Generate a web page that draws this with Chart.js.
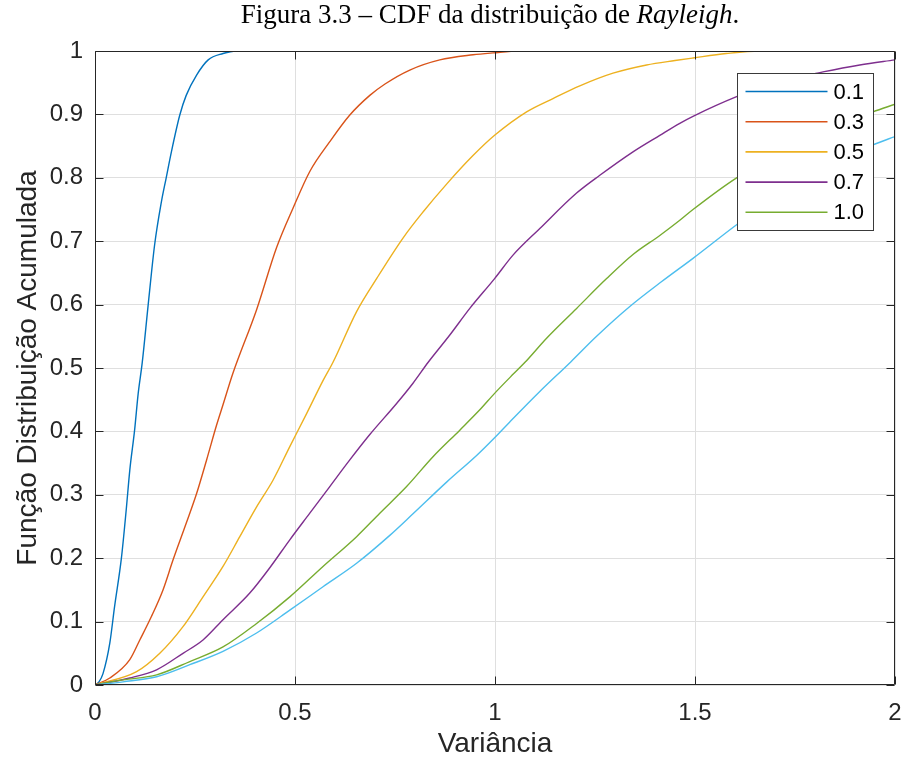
<!DOCTYPE html>
<html>
<head>
<meta charset="utf-8">
<script src="https://cdn.jsdelivr.net/npm/chart.js@4.4.1/dist/chart.umd.min.js"></script>
<style>
  html, body { margin: 0; padding: 0; background: #fff; }
  #wrap { width: 903px; height: 758px; position: relative; }
</style>
</head>
<body>
<div id="wrap"><canvas id="chart-cdf"></canvas></div>
<script>
// curve labels (the last curve has no legend entry in the original)
const seriesLabels = ["0.1", "0.3", "0.5", "0.7", "1.0", ""];
const seriesColors = ["#0072BD", "#D95319", "#EDB120", "#7E2F8E", "#77AC30", "#4DBEEE"];

// values
const x01 = [0, 0.01, 0.02, 0.037, 0.049, 0.066, 0.078, 0.087, 0.099, 0.108, 0.118, 0.133, 0.149, 0.166, 0.178, 0.191, 0.212, 0.228, 0.254, 0.283, 0.32, 0.353, 2];
const y01 = [0, 0.005, 0.018, 0.066, 0.124, 0.2, 0.276, 0.339, 0.402, 0.46, 0.508, 0.6, 0.694, 0.762, 0.8, 0.841, 0.899, 0.93, 0.962, 0.986, 0.996, 1, 1];

const x03 = [0, 0.037, 0.087, 0.112, 0.141, 0.17, 0.195, 0.228, 0.254, 0.279, 0.304, 0.32, 0.345, 0.404, 0.454, 0.495, 0.537, 0.587, 0.637, 0.687, 0.725, 0.787, 0.862, 0.945, 0.995, 1.06, 2];
const y03 = [0, 0.011, 0.04, 0.071, 0.108, 0.15, 0.197, 0.255, 0.302, 0.355, 0.41, 0.442, 0.492, 0.592, 0.69, 0.752, 0.81, 0.857, 0.899, 0.93, 0.948, 0.97, 0.986, 0.994, 0.997, 1, 1];

const x05 = [0, 0.104, 0.162, 0.22, 0.27, 0.32, 0.362, 0.404, 0.445, 0.487, 0.529, 0.57, 0.595, 0.654, 0.704, 0.77, 0.82, 0.879, 0.945, 0.999, 1.079, 1.145, 1.212, 1.295, 1.379, 1.45, 1.495, 1.578, 1.662, 2];
const y05 = [0, 0.021, 0.05, 0.092, 0.139, 0.187, 0.234, 0.281, 0.323, 0.376, 0.428, 0.48, 0.509, 0.589, 0.641, 0.705, 0.746, 0.79, 0.835, 0.867, 0.904, 0.925, 0.945, 0.965, 0.978, 0.985, 0.989, 0.996, 1, 1];

const x07 = [0, 0.087, 0.154, 0.22, 0.27, 0.32, 0.387, 0.437, 0.487, 0.537, 0.587, 0.637, 0.687, 0.754, 0.795, 0.833, 0.887, 0.937, 0.999, 1.045, 1.112, 1.204, 1.262, 1.345, 1.412, 1.462, 1.495, 1.604, 1.7, 1.82, 1.912, 2];
const y07 = [0, 0.011, 0.024, 0.05, 0.071, 0.103, 0.145, 0.185, 0.229, 0.271, 0.313, 0.355, 0.395, 0.444, 0.476, 0.509, 0.552, 0.594, 0.641, 0.678, 0.72, 0.776, 0.804, 0.841, 0.867, 0.886, 0.897, 0.928, 0.95, 0.967, 0.978, 0.986];

const x10 = [0, 0.07, 0.154, 0.237, 0.32, 0.404, 0.487, 0.57, 0.654, 0.712, 0.779, 0.845, 0.912, 0.962, 0.999, 1.045, 1.075, 1.129, 1.204, 1.279, 1.345, 1.412, 1.462, 1.495, 1.604, 1.75, 1.945, 2];
const y10 = [0, 0.008, 0.016, 0.037, 0.06, 0.097, 0.139, 0.187, 0.234, 0.271, 0.313, 0.36, 0.402, 0.434, 0.46, 0.49, 0.509, 0.547, 0.594, 0.641, 0.679, 0.709, 0.733, 0.75, 0.8, 0.852, 0.904, 0.916];

const xExtra = [0, 0.07, 0.154, 0.237, 0.32, 0.404, 0.487, 0.57, 0.654, 0.737, 0.795, 0.879, 0.954, 0.999, 1.037, 1.112, 1.19, 1.254, 1.337, 1.416, 1.495, 1.604, 1.75, 1.945, 2];
const yExtra = [0, 0.005, 0.013, 0.032, 0.053, 0.082, 0.118, 0.155, 0.192, 0.236, 0.27, 0.32, 0.362, 0.39, 0.415, 0.463, 0.51, 0.55, 0.597, 0.636, 0.673, 0.726, 0.792, 0.852, 0.865];

const seriesX = [x01, x03, x05, x07, x10, xExtra];
const seriesY = [y01, y03, y05, y07, y10, yExtra];

const xTicks = [0, 0.5, 1, 1.5, 2];
const yTicks = [0, 0.1, 0.2, 0.3, 0.4, 0.5, 0.6, 0.7, 0.8, 0.9, 1];

const axisColor = "#262626";
const sansFont = "'Liberation Sans', Arial, sans-serif";
const serifFont = "'Liberation Serif', 'Times New Roman', serif";

// box, inward ticks, legend and the mixed-style title
const matlabLook = {
  id: "matlabLook",
  afterDatasetsDraw(chart) {
    const ctx = chart.ctx;
    const a = chart.chartArea;
    const sx = chart.scales.x;
    const sy = chart.scales.y;
    const L = Math.round(a.left) + 0.5, R = Math.round(a.right) - 0.5;
    const T = Math.round(a.top) + 0.5, B = Math.round(a.bottom) - 0.5;
    ctx.save();
    ctx.strokeStyle = axisColor;
    ctx.lineWidth = 1;
    ctx.beginPath();
    ctx.rect(L, T, R - L, B - T);
    xTicks.forEach((v) => {
      const px = Math.round(sx.getPixelForValue(v)) + 0.5;
      ctx.moveTo(px, B); ctx.lineTo(px, B - 8);
      ctx.moveTo(px, T); ctx.lineTo(px, T + 8);
    });
    yTicks.forEach((v) => {
      const py = Math.round(sy.getPixelForValue(v)) + 0.5;
      ctx.moveTo(L, py); ctx.lineTo(L + 8, py);
      ctx.moveTo(R, py); ctx.lineTo(R - 8, py);
    });
    ctx.stroke();

    // legend box (top right, inside axes)
    const entries = chart.data.datasets.filter((d) => d.label);
    const rowH = 30.2;
    const boxW = 136, boxH = 157;
    const bx = Math.round(a.right) - 22 - boxW + 0.5;
    const by = Math.round(a.top) + 22 + 0.5;
    ctx.fillStyle = "#fff";
    ctx.fillRect(bx, by, boxW, boxH);
    ctx.strokeStyle = "#3a3a3a";
    ctx.strokeRect(bx, by, boxW, boxH);
    ctx.font = "22px " + sansFont;
    ctx.textBaseline = "middle";
    ctx.textAlign = "left";
    entries.forEach((d, i) => {
      const cy = by + 18 + i * rowH;
      ctx.strokeStyle = d.borderColor;
      ctx.lineWidth = 1.6;
      ctx.beginPath();
      ctx.moveTo(bx + 8, cy);
      ctx.lineTo(bx + 90, cy);
      ctx.stroke();
      ctx.fillStyle = "#000";
      ctx.fillText(d.label, bx + 96, cy + 1);
    });

    // title: "Figura 3.3 – CDF da distribuição de Rayleigh."
    const parts = [
      { t: "Figura 3.3 – CDF da distribuição de ", f: "27px " + serifFont },
      { t: "Rayleigh", f: "italic 27px " + serifFont },
      { t: ".", f: "27px " + serifFont }
    ];
    let total = 0;
    parts.forEach((p) => { ctx.font = p.f; p.w = ctx.measureText(p.t).width; total += p.w; });
    let tx = (a.left + a.right) / 2 - 5 - total / 2;
    ctx.fillStyle = "#000";
    ctx.textBaseline = "alphabetic";
    parts.forEach((p) => { ctx.font = p.f; ctx.fillText(p.t, tx, 23); tx += p.w; });
    ctx.restore();
  }
};

const datasets = seriesLabels.map((lab, i) => ({
  label: lab,
  data: seriesX[i].map((x, j) => ({ x: x, y: seriesY[i][j] })),
  borderColor: seriesColors[i],
  backgroundColor: seriesColors[i],
  borderWidth: 1.4,
  pointRadius: 0,
  cubicInterpolationMode: "monotone",
  fill: false,
  order: seriesLabels.length - i
}));

new Chart(document.getElementById("chart-cdf"), {
  type: "line",
  data: { datasets: datasets },
  plugins: [matlabLook],
  options: {
    responsive: true,
    maintainAspectRatio: false,
    animation: false,
    layout: { padding: { top: 51, right: 8, left: 0, bottom: 0 } },
    plugins: {
      legend: { display: false },
      tooltip: { enabled: false }
    },
    scales: {
      x: {
        type: "linear",
        min: 0,
        max: 2,
        afterFit(scale) {
          scale.height = 73;
          scale.paddingLeft = 0;
          scale.paddingRight = 0;
        },
        afterBuildTicks(scale) { scale.ticks = xTicks.map((v) => ({ value: v })); },
        grid: { color: "#dfdfdf", drawTicks: false },
        border: { display: false },
        ticks: {
          padding: 14,
          color: axisColor,
          font: { size: 24, family: sansFont },
          callback: (v) => String(Number(v.toFixed(1)))
        },
        title: {
          display: true,
          text: "Variância",
          color: axisColor,
          padding: { top: 0, bottom: 0 },
          font: { size: 28, family: sansFont, lineHeight: 1 }
        }
      },
      y: {
        type: "linear",
        min: 0,
        max: 1,
        afterFit(scale) {
          scale.width = 95;
          scale.paddingTop = 0;
          scale.paddingBottom = 0;
        },
        afterBuildTicks(scale) { scale.ticks = yTicks.map((v) => ({ value: v })); },
        grid: { color: "#dfdfdf", drawTicks: false },
        border: { display: false },
        ticks: {
          padding: 12,
          color: axisColor,
          font: { size: 24, family: sansFont },
          callback: (v) => String(Number(v.toFixed(1)))
        },
        title: {
          display: true,
          text: "Função Distribuição Acumulada",
          color: axisColor,
          padding: { top: 14, bottom: 0 },
          font: { size: 28, family: sansFont, lineHeight: 1 }
        }
      }
    }
  }
});
</script>
</body>
</html>
